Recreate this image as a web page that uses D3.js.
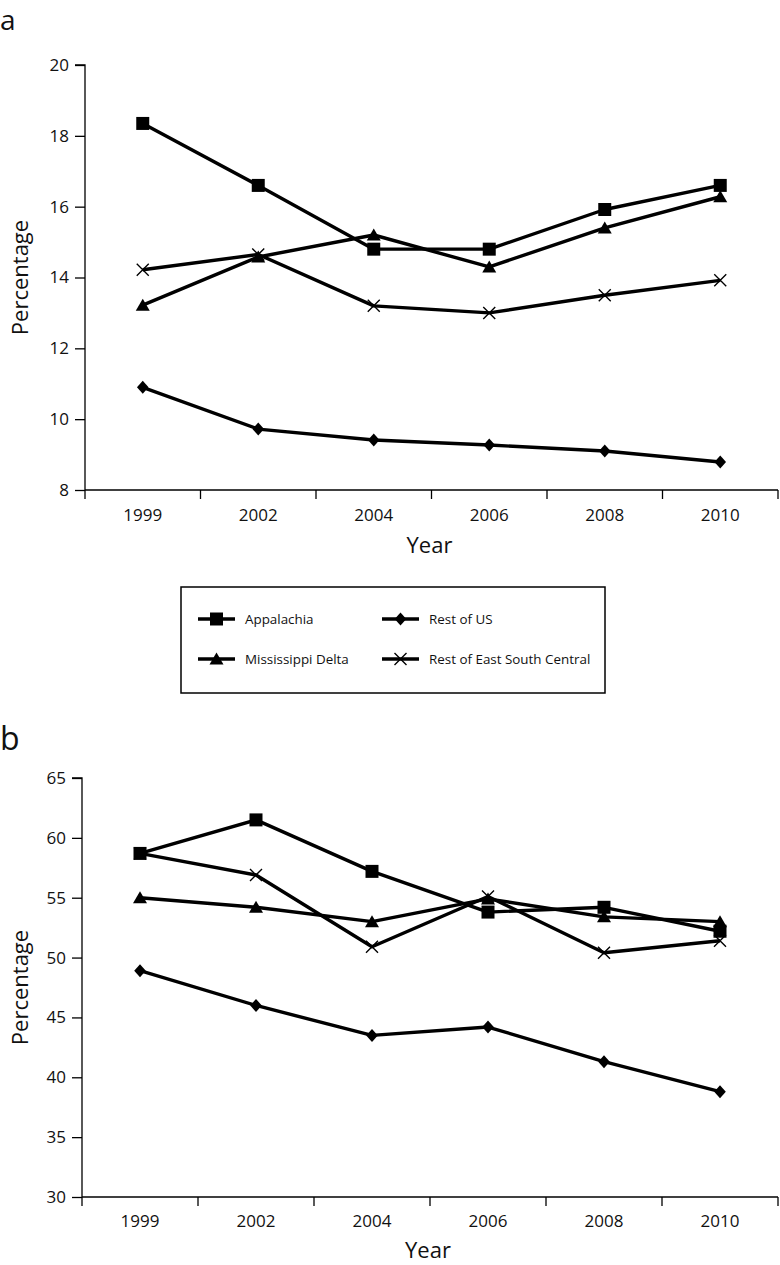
<!DOCTYPE html>
<html>
<head>
<meta charset="utf-8">
<script src="https://cdn.jsdelivr.net/npm/d3@7"></script>
<style>
  html, body { margin: 0; padding: 0; background: #fff; }
  svg { display: block; }
  text { font-family: "Open Sans", sans-serif; fill: #111; }
</style>
</head>
<body>
<svg id="chart" width="780" height="1265"></svg>
<script>
// ---------- DATA ----------
const years = ["1999", "2002", "2004", "2006", "2008", "2010"];
const seriesNames = ["Appalachia", "Mississippi Delta", "Rest of US", "Rest of East South Central"];

// Panel a
const aAppalachia = [18.35, 16.6, 14.8, 14.8, 15.92, 16.6];
const aDelta      = [13.22, 14.58, 15.2, 14.3, 15.4, 16.28];
const aRestUS     = [10.9, 9.72, 9.41, 9.27, 9.1, 8.79];
const aRestESC    = [14.22, 14.65, 13.2, 13.0, 13.5, 13.92];
const aTicks      = [8, 10, 12, 14, 16, 18, 20];

// Panel b
const bAppalachia = [58.7, 61.5, 57.2, 53.8, 54.2, 52.2];
const bDelta      = [55.0, 54.2, 53.0, 54.9, 53.4, 53.0];
const bRestUS     = [48.9, 46.0, 43.5, 44.2, 41.3, 38.8];
const bRestESC    = [58.7, 56.9, 50.9, 55.1, 50.4, 51.4];
const bTicks      = [30, 35, 40, 45, 50, 55, 60, 65];

// ---------- SYMBOLS ----------
const symSquare = { draw(ctx, s) { const h = 6.5; ctx.rect(-h, -h, 2*h, 2*h); } };
const symTriangle = { draw(ctx, s) { ctx.moveTo(0, -6.5); ctx.lineTo(7, 5.5); ctx.lineTo(-7, 5.5); ctx.closePath(); } };
const symDiamond = { draw(ctx, s) { ctx.moveTo(0, -6.5); ctx.lineTo(5.8, 0); ctx.lineTo(0, 6.5); ctx.lineTo(-5.8, 0); ctx.closePath(); } };
const symX = { draw(ctx, s) { const r = 6; ctx.moveTo(-r, -r); ctx.lineTo(r, r); ctx.moveTo(r, -r); ctx.lineTo(-r, r); } };
const markerFor = {
  "Appalachia": { type: symSquare, filled: true },
  "Mississippi Delta": { type: symTriangle, filled: true },
  "Rest of US": { type: symDiamond, filled: true },
  "Rest of East South Central": { type: symX, filled: false }
};

const svg = d3.select("#chart");

function drawMarker(g, name, x, y) {
  const m = markerFor[name];
  g.append("path")
    .attr("d", d3.symbol().type(m.type)())
    .attr("transform", `translate(${x},${y})`)
    .attr("fill", m.filled ? "#000" : "none")
    .attr("stroke", "#000")
    .attr("stroke-width", m.filled ? 0 : 1.4);
}

function panel(opts) {
  const { left, right, top, bottom, domain, ticks, series, letter, letterY, letterSize, yearY, labelOffset } = opts;
  const g = svg.append("g");
  const x = d3.scaleBand().domain(years).range([left, right]).padding(0);
  const y = d3.scaleLinear().domain(domain).range([bottom, top]);

  // y axis
  const yAxis = d3.axisLeft(y).tickValues(ticks).tickSize(10).tickPadding(6).tickFormat(d3.format("d"));
  const ya = g.append("g").attr("transform", `translate(${left},0)`).call(yAxis);
  ya.select(".domain").attr("d", `M-10,${y(domain[1])}H0V${y(domain[0])}`);
  ya.selectAll("path,line").attr("stroke", "#000").attr("stroke-width", 1.3);
  ya.selectAll("text").style("font-size", "17px").style("font-family", "'Open Sans', sans-serif").attr("fill", "#111");

  // x axis baseline + boundary ticks
  g.append("line").attr("x1", left).attr("x2", right).attr("y1", bottom).attr("y2", bottom)
    .attr("stroke", "#000").attr("stroke-width", 1.3);
  const bounds = years.map(d => x(d)).concat([x.range()[1]]);
  g.selectAll(".xb").data(bounds).enter().append("line")
    .attr("x1", d => d).attr("x2", d => d).attr("y1", bottom).attr("y2", bottom + 9)
    .attr("stroke", "#000").attr("stroke-width", 1.3);
  g.selectAll(".xl").data(years).enter().append("text")
    .attr("x", d => x(d) + x.bandwidth() / 2).attr("y", bottom + labelOffset)
    .attr("text-anchor", "middle").style("font-size", "17px").text(d => d);

  // axis titles
  g.append("text").attr("x", (left + right) / 2 - 2).attr("y", yearY)
    .attr("text-anchor", "middle").style("font-size", "22px").text("Year");
  g.append("text").attr("transform", `translate(28,${(top + bottom) / 2}) rotate(-90)`)
    .attr("text-anchor", "middle").style("font-size", "22px").text("Percentage");

  // panel letter
  g.append("text").attr("x", 0).attr("y", letterY).style("font-size", letterSize + "px").text(letter);

  // lines
  const line = d3.line().x((d, i) => x(years[i]) + x.bandwidth() / 2).y(d => y(d));
  series.forEach(s => {
    g.append("path").datum(s.values).attr("d", line)
      .attr("fill", "none").attr("stroke", "#000").attr("stroke-width", 3.4).attr("stroke-linejoin", "round");
  });
  series.forEach(s => {
    s.values.forEach((v, i) => drawMarker(g, s.name, x(years[i]) + x.bandwidth() / 2, y(v)));
  });
}

panel({
  left: 85, right: 778, top: 65, bottom: 490, domain: [8, 20], ticks: aTicks,
  series: [
    { name: "Rest of US", values: aRestUS },
    { name: "Rest of East South Central", values: aRestESC },
    { name: "Mississippi Delta", values: aDelta },
    { name: "Appalachia", values: aAppalachia }
  ],
  letter: "a", letterY: 30, letterSize: 28, yearY: 553, labelOffset: 31
});

panel({
  left: 82, right: 778, top: 778, bottom: 1197, domain: [30, 65], ticks: bTicks,
  series: [
    { name: "Rest of US", values: bRestUS },
    { name: "Rest of East South Central", values: bRestESC },
    { name: "Mississippi Delta", values: bDelta },
    { name: "Appalachia", values: bAppalachia }
  ],
  letter: "b", letterY: 750, letterSize: 32, yearY: 1258, labelOffset: 30
});

// ---------- LEGEND ----------
const lg = svg.append("g");
lg.append("rect").attr("x", 181).attr("y", 587).attr("width", 424).attr("height", 106)
  .attr("fill", "none").attr("stroke", "#000").attr("stroke-width", 1.5);
const legendItems = [
  { name: "Appalachia", x: 198, y: 619 },
  { name: "Rest of US", x: 382, y: 619 },
  { name: "Mississippi Delta", x: 198, y: 659 },
  { name: "Rest of East South Central", x: 382, y: 659 }
];
legendItems.forEach(it => {
  lg.append("line").attr("x1", it.x).attr("x2", it.x + 37).attr("y1", it.y).attr("y2", it.y)
    .attr("stroke", "#000").attr("stroke-width", 3.4);
  drawMarker(lg, it.name, it.x + 18.5, it.y);
  lg.append("text").attr("x", it.x + 47).attr("y", it.y + 5).style("font-size", "13.4px").text(it.name);
});
</script>
</body>
</html>
